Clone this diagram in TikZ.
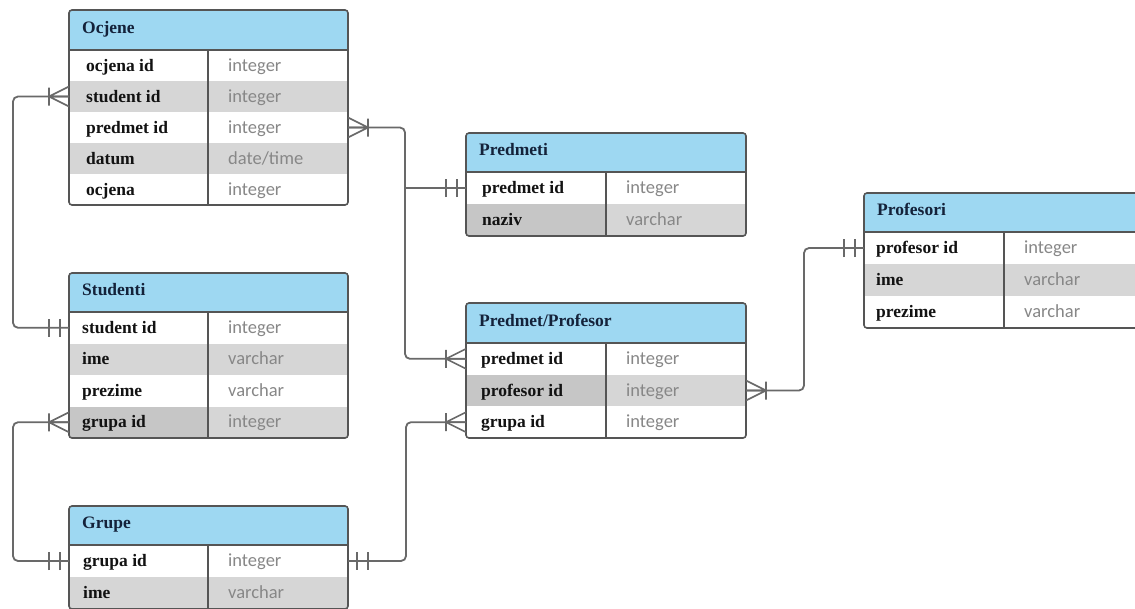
\documentclass[tikz,border=0pt]{standalone}
\usepackage{fontspec}
\setmainfont{Liberation Serif}
\newfontfamily\typefont{Carlito}
\usetikzlibrary{calc}
\definecolor{hdrblue}{RGB}{158,216,242}
\definecolor{rowgray}{RGB}{214,214,214}
\definecolor{cellgray}{RGB}{198,198,198}
\definecolor{bordercol}{RGB}{85,85,85}
\definecolor{linecol}{RGB}{105,105,105}
\definecolor{typecol}{RGB}{135,135,135}
\definecolor{hdrtext}{RGB}{20,34,58}
\definecolor{namecol}{RGB}{18,18,18}
\def\xl{69}\def\xd{208}\def\xr{348}\def\rh{31}\def\nx{15}
\newcommand\ERrow[6]{% #1 name, #2 ytop, #3 fill left, #4 fill right, #5 field, #6 type
  \node[cellbox, fill=#3, minimum width={(\xd-\xl)*1pt}] (#1-n) at (\xl,#2) {};
  \node[cellbox, fill=#4, minimum width={(\xr-\xd)*1pt}] (#1-t) at (\xd,#2) {};
  \node[fname] (#1-nl) at ([xshift=\nx pt, yshift=-5.5pt]#1-n.west) {#5};
  \node[ftype] (#1-tl) at ([xshift=20pt, yshift=-5.5pt]#1-t.west) {#6};
}
\newcommand\ERhead[4]{% #1 name, #2 ytop, #3 height, #4 title
  \node[hdr, minimum width={(\xr-\xl)*1pt}, minimum height=#3pt] (#1) at (\xl,#2) {};
  \node[htext] (#1-l) at ([xshift=13pt, yshift=-3pt]#1.west) {#4};
}
\newcommand\ERframe[3]{% #1 header, #2 first row, #3 last row
  \draw[border] (#2-t.north west) -- (#3-t.south west);
  \draw[border] (#1.south west) -- (#1.south east);
  \draw[border, rounded corners=3pt] (#1.north west) rectangle (#3-t.south east);
}
\tikzset{
  cellbox/.style={rectangle, draw=none, inner sep=0pt, outer sep=0pt, minimum height=\rh pt, anchor=north west},
  fname/.style={font=\fontsize{17.5}{19}\selectfont\bfseries, text=namecol, inner sep=0pt, anchor=base west},
  ftype/.style={font=\typefont\fontsize{18.5}{20}\selectfont, text=typecol, inner sep=0pt, anchor=base west},
  hdr/.style={rectangle, fill=hdrblue, draw=none, inner sep=0pt, outer sep=0pt, anchor=north west},
  htext/.style={font=\fontsize{17.5}{19}\selectfont\bfseries, text=hdrtext, inner sep=0pt, anchor=base west},
  border/.style={draw=bordercol, line width=1.6pt},
  conn/.style={draw=linecol, line width=1.8pt, rounded corners=5pt},
  many/.pic={\draw[linecol, line width=1.6pt] (0,-10) -- (20,0) -- (0,10) (0,0) -- (20,0) (20,-9) -- (20,9);},
  one/.pic={\draw[linecol, line width=1.6pt] (9,-9) -- (9,9) (20,-9) -- (20,9);}
}
\begin{document}
\begin{tikzpicture}[x=1pt,y=-1pt]
\useasboundingbox (0,0) rectangle (1135,608);
\clip (0,0) rectangle (1135,608);
\fill[white] (0,0) rectangle (1135,608);

% Ocjene
\def\xl{69}\def\xd{208}\def\xr{348}\def\rh{31}\def\nx{17}
\ERhead{ocj}{10}{40}{Ocjene}
\ERrow{ocj1}{50}{white}{white}{ocjena id}{integer}
\ERrow{ocj2}{81}{rowgray}{rowgray}{student id}{integer}
\ERrow{ocj3}{112}{white}{white}{predmet id}{integer}
\ERrow{ocj4}{143}{rowgray}{rowgray}{datum}{date/time}
\ERrow{ocj5}{174}{white}{white}{ocjena}{integer}
\ERframe{ocj}{ocj1}{ocj5}

% Studenti
\def\rh{31.5}\def\nx{13}
\ERhead{stu}{273}{39}{Studenti}
\ERrow{stu1}{312}{white}{white}{student id}{integer}
\ERrow{stu2}{343.5}{rowgray}{rowgray}{ime}{varchar}
\ERrow{stu3}{375}{white}{white}{prezime}{varchar}
\ERrow{stu4}{406.5}{cellgray}{rowgray}{grupa id}{integer}
\ERframe{stu}{stu1}{stu4}

% Grupe
\def\rh{32}\def\nx{14}
\ERhead{grp}{506}{39}{Grupe}
\ERrow{grp1}{545}{white}{white}{grupa id}{integer}
\ERrow{grp2}{577}{rowgray}{rowgray}{ime}{varchar}
\ERframe{grp}{grp1}{grp2}

% Predmeti
\def\xl{466}\def\xd{606}\def\xr{746}\def\rh{32}\def\nx{16}
\ERhead{pmt}{133}{39}{Predmeti}
\ERrow{pmt1}{172}{white}{white}{predmet id}{integer}
\ERrow{pmt2}{204}{cellgray}{rowgray}{naziv}{varchar}
\ERframe{pmt}{pmt1}{pmt2}

% Predmet/Profesor
\def\rh{31.67}\def\nx{15}
\ERhead{pp}{303}{40}{Predmet/Profesor}
\ERrow{pp1}{343}{white}{white}{predmet id}{integer}
\ERrow{pp2}{374.67}{cellgray}{rowgray}{profesor id}{integer}
\ERrow{pp3}{406.33}{white}{white}{grupa id}{integer}
\ERframe{pp}{pp1}{pp3}

% Profesori
\def\xl{864}\def\xd{1004}\def\xr{1160}\def\rh{32}\def\nx{12}
\ERhead{prf}{193}{39}{Profesori}
\ERrow{prf1}{232}{white}{white}{profesor id}{integer}
\ERrow{prf2}{264}{rowgray}{rowgray}{ime}{varchar}
\ERrow{prf3}{296}{white}{white}{prezime}{varchar}
\ERframe{prf}{prf1}{prf3}

% Connectors
\draw[conn] (ocj2-n.west) -- ++(-56,0) |- (stu1-n.west);
\coordinate (j1) at ($(ocj3-t.east)+(57,0)$);
\draw[conn] (ocj3-t.east) -- (j1) |- (pp1-n.west);
\draw[conn, rounded corners=0pt] (j1 |- pmt1-n.west) -- (pmt1-n.west);
\draw[conn] (pp2-t.east) -- ++(58,0) |- (prf1-n.west);
\draw[conn] (stu4-n.west) -- ++(-56,0) |- (grp1-n.west);
\draw[conn] (grp1-t.east) -- ++(58,0) |- (pp3-n.west);

% Cardinality markers
\pic[rotate=180] at (ocj2-n.west) {many};
\pic[rotate=180] at (stu1-n.west) {one};
\pic at (ocj3-t.east) {many};
\pic[rotate=180] at (pmt1-n.west) {one};
\pic[rotate=180] at (pp1-n.west) {many};
\pic at (pp2-t.east) {many};
\pic[rotate=180] at (prf1-n.west) {one};
\pic[rotate=180] at (stu4-n.west) {many};
\pic[rotate=180] at (grp1-n.west) {one};
\pic at (grp1-t.east) {one};
\pic[rotate=180] at (pp3-n.west) {many};
\end{tikzpicture}
\end{document}
